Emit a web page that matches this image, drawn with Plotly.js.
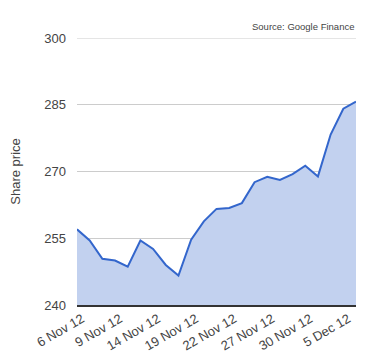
<!DOCTYPE html>
<html><head><meta charset="utf-8">
<script src="https://cdn.plot.ly/plotly-3.0.1.min.js"></script>
<style>html,body{margin:0;padding:0;background:#fff}#c{width:380px;height:360px}</style>
</head><body><div id="c"></div>
<script>
const dates = ["6 Nov 12","7 Nov 12","8 Nov 12","9 Nov 12","12 Nov 12","13 Nov 12","14 Nov 12","15 Nov 12","16 Nov 12","19 Nov 12","20 Nov 12","21 Nov 12","22 Nov 12","23 Nov 12","26 Nov 12","27 Nov 12","28 Nov 12","29 Nov 12","30 Nov 12","3 Dec 12","4 Dec 12","5 Dec 12","6 Dec 12"];
const prices = [257.0,254.5,250.4,250.0,248.6,254.5,252.6,249.0,246.6,254.7,258.8,261.6,261.8,262.9,267.6,268.8,268.1,269.4,271.3,268.9,278.3,284.1,285.7];
const tickIdx = [0,3,6,9,12,15,18,21];
const tickLabels = ["6 Nov 12","9 Nov 12","14 Nov 12","19 Nov 12","22 Nov 12","27 Nov 12","30 Nov 12","5 Dec 12"];
const yTicks = [240,255,270,285,300];
const xIdx = dates.map((d,i)=>i);
const yMin = yTicks[0], yMax = yTicks[yTicks.length-1];

Plotly.newPlot('c',[{
  x:xIdx, y:prices, type:'scatter', mode:'lines',
  fill:'tozeroy', fillcolor:'#c2d1ef',
  line:{color:'#3366cc',width:2},
  text:dates, hoverinfo:'text+y'
}],{
  width:380,height:360,
  margin:{l:77,r:24,t:38,b:55},
  paper_bgcolor:'#fff',plot_bgcolor:'#fff',
  font:{family:'Liberation Sans, Arial, sans-serif',color:'#444',size:13},
  showlegend:false,
  xaxis:{range:[0,xIdx.length-1],tickvals:tickIdx,ticktext:tickLabels,tickangle:-30,
    ticklabelshift:5,
    showgrid:false,zeroline:false,showline:true,linecolor:'#333',linewidth:1.5,
    ticks:'',tickfont:{size:13,color:'#444'}},
  yaxis:{range:[yMin,yMax],tickvals:yTicks,showgrid:true,gridcolor:'#cccccc',
    zeroline:false,showline:false,ticks:'',ticklabelstandoff:10,
    tickfont:{size:13,color:'#444'},
    title:{text:'Share price',font:{size:13,color:'#444'},standoff:20}},
  shapes:[{type:'line',xref:'paper',yref:'y',x0:0,x1:1,y0:yMax,y1:yMax,
    line:{color:'#cccccc',width:1},layer:'below'}],
  annotations:[{text:'Source: Google Finance',xref:'paper',yref:'paper',x:1,y:1,
    xanchor:'right',yanchor:'bottom',yshift:4,showarrow:false,
    font:{family:'Liberation Sans, Arial, sans-serif',size:9.5,color:'#444'}}]
},{displayModeBar:false,staticPlot:true});
</script></body></html>
